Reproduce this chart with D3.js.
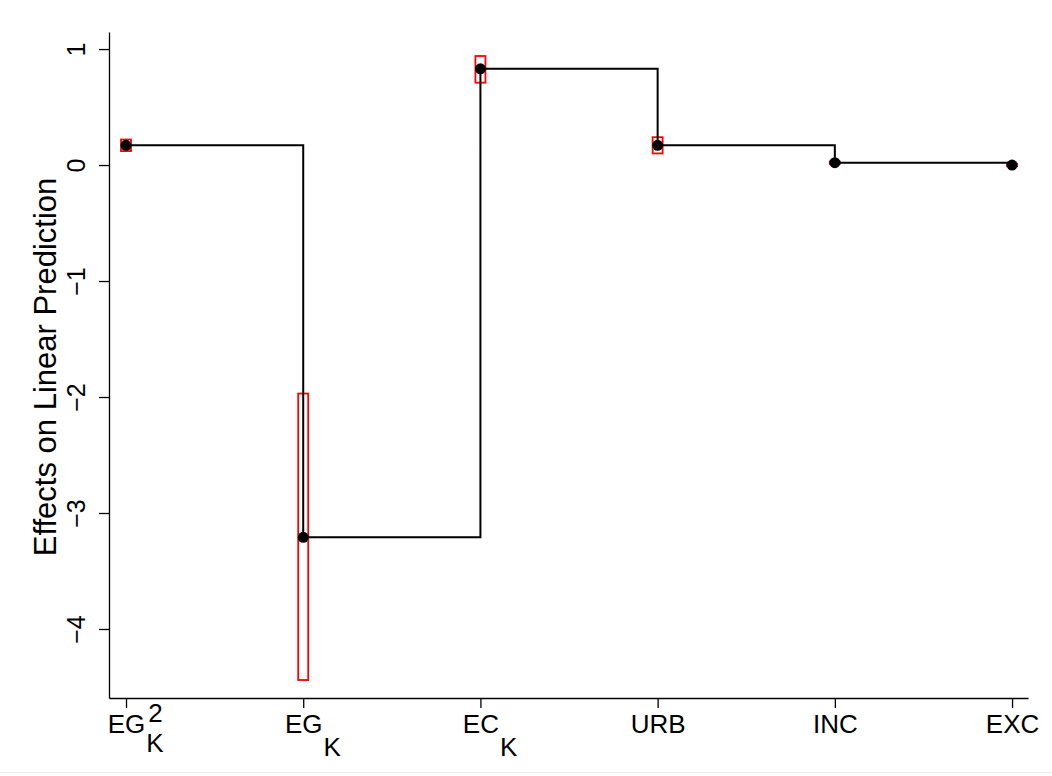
<!DOCTYPE html>
<html>
<head>
<meta charset="utf-8">
<script src="https://cdn.jsdelivr.net/npm/d3@7"></script>
<style>
  body { margin: 0; background: #fff; }
  svg { display: block; }
  svg text { font-family: "Liberation Sans", Arial, Helvetica, sans-serif; }
</style>
</head>
<body>
<div id="chart"></div>
<script>
// categories: main text, superscript, subscript
var names = ['EG', 'EG', 'EC', 'URB', 'INC', 'EXC'];
var sups = ['2', '', '', '', '', ''];
var subs = ['K', 'K', 'K', '', '', ''];
// point estimates
var effects = [0.17, -3.21, 0.83, 0.17, 0.02, 0.0];
// confidence bounds (red boxes)
var ciLow = [0.12, -4.44, 0.71, 0.10, 0.01, -0.01];
var ciHigh = [0.22, -1.97, 0.94, 0.24, 0.03, 0.01];
var yTicks = [-4, -3, -2, -1, 0, 1];

var W = 1052, H = 776;
var FONT = '"Liberation Sans", Arial, Helvetica, sans-serif';
var svg = d3.select('#chart').append('svg')
  .attr('width', W).attr('height', H);

var x = d3.scaleLinear().domain([-0.096, 5.09]).range([109, 1028]);
var y = d3.scaleLinear().domain([-4.595, 1.147]).range([698, 32]);

var data = effects.map(function(v, i) {
  return {i: i, v: v, lo: ciLow[i], hi: ciHigh[i]};
});

// y axis
var yAxis = d3.axisLeft(y).tickValues(yTicks).tickSize(10).tickSizeOuter(0).tickFormat('');
var yg = svg.append('g')
  .attr('transform', 'translate(109,0)')
  .attr('font-family', FONT)
  .call(yAxis);
yg.selectAll('path, line').attr('stroke', '#000').attr('stroke-width', 1.3);
yg.selectAll('.tick').append('text')
  .attr('transform', 'translate(-24,0) rotate(-90)')
  .attr('text-anchor', 'middle')
  .attr('fill', '#000')
  .attr('font-size', 25)
  .text(function(d) { return d < 0 ? '\u2212' + Math.abs(d) : d; });

svg.append('text')
  .attr('transform', 'translate(56,367) rotate(-90)')
  .attr('text-anchor', 'middle')
  .attr('font-size', 31)
  .text('Effects on Linear Prediction');

// x axis
var xAxis = d3.axisBottom(x).tickValues(d3.range(names.length)).tickSize(10).tickSizeOuter(0).tickFormat('');
var xg = svg.append('g')
  .attr('transform', 'translate(0,698)')
  .attr('font-family', FONT)
  .call(xAxis);
xg.selectAll('path, line').attr('stroke', '#000').attr('stroke-width', 1.3);

xg.selectAll('.tick').each(function(d) {
  var g = d3.select(this);
  var t = g.append('text')
    .attr('y', 35)
    .attr('text-anchor', 'middle')
    .attr('fill', '#000')
    .attr('font-size', 26)
    .text(names[d]);
  var hw = t.node().getComputedTextLength() / 2;
  // the axis group defaults to text-anchor middle, so set start here
  if (sups[d]) {
    g.append('text').attr('x', hw + 3).attr('y', 24)
      .attr('text-anchor', 'start')
      .attr('fill', '#000').attr('font-size', 26).text(sups[d]);
  }
  if (subs[d]) {
    g.append('text').attr('x', hw + 1).attr('y', sups[d] ? 54 : 58)
      .attr('text-anchor', 'start')
      .attr('fill', '#000').attr('font-size', 26).text(subs[d]);
  }
});

// confidence boxes
svg.append('g').selectAll('rect')
  .data(data)
  .enter().append('rect')
  .attr('x', function(d) { return x(d.i) - 5; })
  .attr('y', function(d) { return y(d.hi); })
  .attr('width', 10)
  .attr('height', function(d) { return y(d.lo) - y(d.hi); })
  .attr('fill', 'none')
  .attr('stroke', '#f00')
  .attr('stroke-width', 1.8);

// step line
var line = d3.line()
  .x(function(d) { return x(d.i); })
  .y(function(d) { return y(d.v); })
  .curve(d3.curveStepAfter);
svg.append('path')
  .datum(data)
  .attr('d', line)
  .attr('fill', 'none')
  .attr('stroke', '#000')
  .attr('stroke-width', 2);

svg.append('g').selectAll('circle')
  .data(data)
  .enter().append('circle')
  .attr('cx', function(d) { return x(d.i); })
  .attr('cy', function(d) { return y(d.v); })
  .attr('r', 5.5)
  .attr('fill', '#000');

// faint border at the bottom of the graph region
svg.append('line')
  .attr('x1', 0).attr('x2', W).attr('y1', 772.5).attr('y2', 772.5)
  .attr('stroke', '#eee').attr('stroke-width', 1);
</script>
</body>
</html>
